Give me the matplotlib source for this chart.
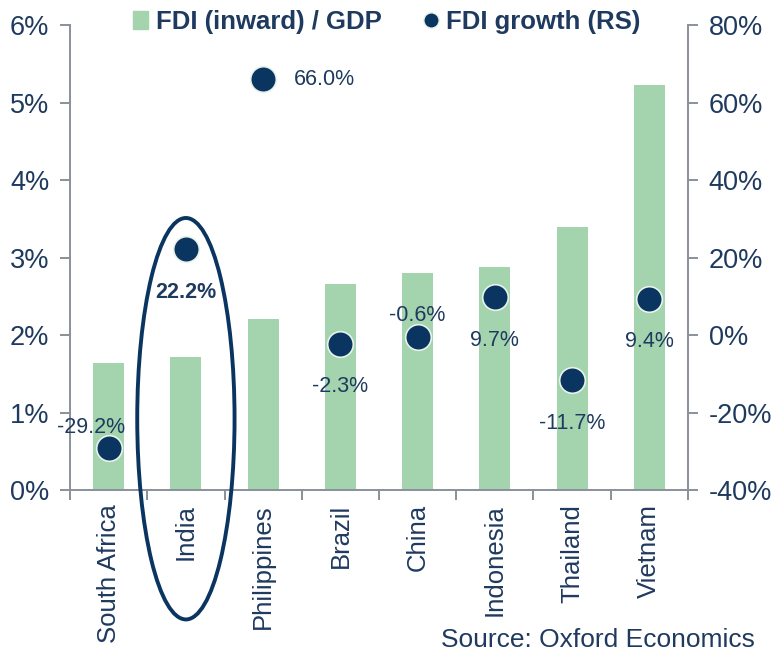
import matplotlib.pyplot as plt
from matplotlib.patches import Ellipse
from matplotlib.lines import Line2D
from matplotlib.patches import Patch

plt.rcParams['font.family'] = ['Liberation Sans', 'DejaVu Sans']

countries = ['South Africa', 'India', 'Philippines', 'Brazil', 'China',
             'Indonesia', 'Thailand', 'Vietnam']
fdi_gdp = [1.64, 1.72, 2.21, 2.66, 2.80, 2.88, 3.40, 5.22]
fdi_growth = [-29.2, 22.2, 66.0, -2.3, -0.6, 9.7, -11.7, 9.4]

green = '#a3d4ae'
navy = '#0a3560'
text_c = '#1f3a5f'
axis_c = '#8a909a'

fig = plt.figure(figsize=(7.73, 6.53), dpi=100)
ax = fig.add_axes([0.0906, 0.2496, 0.7994, 0.7121])
ax2 = ax.twinx()

x = range(len(countries))
ax.bar(x, fdi_gdp, width=0.4, color=green, zorder=2)
ax.set_xlim(-0.5, len(countries) - 0.5)
ax.set_ylim(0, 6)
ax.set_yticks(range(0, 7))
ax.set_yticklabels([f'{v}%' for v in range(0, 7)])

ax2.scatter(x, fdi_growth, s=340, color=navy, edgecolors='#e8f2ea',
            linewidths=1.2, zorder=5)
ax2.set_ylim(-40, 80)
ax2.set_yticks(range(-40, 81, 20))
ax2.set_yticklabels([f'{v}%' for v in range(-40, 81, 20)])

# label offsets in points (dx, dy) and alignment
offsets = [(-13, 15, 'center'), (0, -31, 'center'), (22, 0, 'left'),
           (0, -31, 'center'), (0, 16, 'center'), (0, -31, 'center'),
           (0, -31, 'center'), (0, -31, 'center')]
for i, v in enumerate(fdi_growth):
    dx, dy, ha = offsets[i]
    ax2.annotate(f'{v:.1f}%', (i, v), xytext=(dx, dy),
                 textcoords='offset points', ha=ha, va='center',
                 fontsize=15.5, color=text_c,
                 fontweight='bold' if countries[i] == 'India' else 'normal')

# x axis: ticks at category boundaries, labels rotated
ax.set_xticks([i - 0.5 for i in range(len(countries) + 1)])
ax.set_xticklabels([])
ax.set_xticks(list(x), minor=True)
ax.set_xticklabels(countries, minor=True, rotation=90, fontsize=18.5,
                   color=text_c)
ax.tick_params(axis='x', which='minor', length=0, pad=10)
ax.tick_params(axis='x', which='major', length=7, color=axis_c, width=1.4)

for a in (ax, ax2):
    for s in a.spines.values():
        s.set_visible(False)
ax.spines['left'].set_visible(True)
ax.spines['bottom'].set_visible(True)
ax2.spines['right'].set_visible(True)
for s in (ax.spines['left'], ax.spines['bottom'], ax2.spines['right']):
    s.set_color(axis_c)
    s.set_linewidth(1.4)
ax.tick_params(axis='y', length=7, color=axis_c, width=1.4,
               labelsize=19.5, labelcolor=text_c, pad=8)
ax2.tick_params(axis='y', length=7, color=axis_c, width=1.4,
                labelsize=19.5, labelcolor=text_c, pad=8)

# highlight India
ell = Ellipse((1, 0.92), width=1.26, height=5.18, fill=False,
              edgecolor=navy, linewidth=2.8, clip_on=False, zorder=6)
ax.add_patch(ell)

handles = [Patch(color=green),
           Line2D([], [], marker='o', linestyle='none', color=navy,
                  markersize=11, markeredgecolor='#e8f2ea')]
leg = fig.legend(handles, ['FDI (inward) / GDP', 'FDI growth (RS)'],
                 loc='upper center', bbox_to_anchor=(0.50, 1.02), ncol=2,
                 frameon=False, handlelength=0.6, handletextpad=0.3,
                 columnspacing=1.6,
                 prop={'weight': 'bold', 'size': 18.5})
for t in leg.get_texts():
    t.set_color(text_c)

fig.text(0.977, 0.002, 'Source: Oxford Economics', ha='right', va='bottom',
         fontsize=19, color=text_c)

fig.savefig('out.png', dpi=100)
